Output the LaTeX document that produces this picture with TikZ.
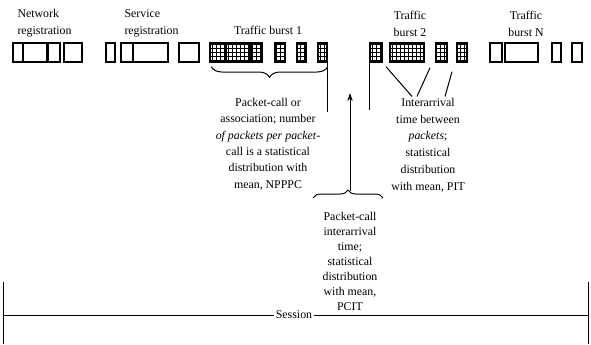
\documentclass[tikz,border=0pt]{standalone}
\usepackage{fontspec}
\setmainfont{Liberation Serif}
\usetikzlibrary{patterns,decorations.pathreplacing,calc,arrows.meta}

\tikzset{every picture/.style={line width=0.75pt}}
\tikzset{
  blank/.style={draw, line width=1pt, minimum height=14.25pt, inner sep=0pt},
  burst/.style={blank, pattern=grid},
  lbl/.style={inner sep=0.75pt, font=\fontsize{8.9}{12.75}\selectfont},
  curly/.style={decorate, decoration={brace, amplitude=#1}},
}

\begin{document}
\begin{tikzpicture}[x=0.75pt,y=0.75pt,yscale=-1,xscale=1]
\useasboundingbox (0,0) rectangle (591,344);

% network registration
\node [blank, minimum width=7.5pt]   (nr1) at (18,52.5) {};
\node [blank, minimum width=18pt]    (nr2) at (35,52.5) {};
\node [blank, minimum width=9pt]     (nr3) at (54,52.5) {};
\node [blank, minimum width=13.5pt]  (nr4) at (73,52.5) {};
% service registration
\node [blank, minimum width=6.75pt]  (sr1) at (110.5,52.5) {};
\node [blank, minimum width=9pt]     (sr2) at (127,52.5) {};
\node [blank, minimum width=26.25pt] (sr3) at (150.5,52.5) {};
\node [blank, minimum width=15pt]    (sr4) at (189,52.5) {};
% traffic burst 1
\node [burst, minimum width=11.25pt] (tb1a) at (217.5,52.5) {};
\node [burst, minimum width=18pt]    (tb1b) at (238,52.5) {};
\node [burst, minimum width=8.25pt]  (tb1c) at (256.5,52.5) {};
\node [burst, minimum width=7.5pt]   (tb1d) at (280,52.5) {};
\node [burst, minimum width=6.75pt]  (tb1e) at (301.5,52.5) {};
\node [burst, minimum width=6.75pt]  (tb1f) at (322.5,52.5) {};
% traffic burst 2
\node [burst, minimum width=9pt]     (tb2a) at (376,52.5) {};
\node [burst, minimum width=25.5pt]  (tb2b) at (407,52.5) {};
\node [burst, minimum width=8.25pt]  (tb2c) at (441.5,52.5) {};
\node [burst, minimum width=7.5pt]   (tb2d) at (462,52.5) {};
% traffic burst N
\node [blank, minimum width=9pt]     (tbn1) at (496,52.5) {};
\node [blank, minimum width=24.75pt] (tbn2) at (521.5,52.5) {};
\node [blank, minimum width=6.75pt]  (tbn3) at (556.5,52.5) {};
\node [blank, minimum width=7.5pt]   (tbn4) at (577,52.5) {};

% headings
\node [lbl, anchor=west, align=left] (netlbl) at (16,23.5) {Network\\registration};
\node [lbl, anchor=west, align=left] (svclbl) at (123,23.5) {Service\\registration};
\node [lbl] (tb1lbl) at (268,30) {Traffic burst 1};
\node [lbl, align=center] (tb2lbl) at (410,23.5) {Traffic\\burst 2};
\node [lbl, align=center] (tbnlbl) at (526,23.5) {Traffic\\burst N};

% explanations
\node [lbl, align=center, font=\fontsize{8.9}{12.3}\selectfont] (npppc) at (268,144)
  {Packet-call or\\association; number\\\textit{of packets per packet-}\\call is a statistical\\distribution with\\mean, NPPPC};
\node [lbl, align=center, font=\fontsize{8.9}{12.6}\selectfont] (pit) at (428,145)
  {Interarrival\\time between\\\textit{packets};\\statistical\\distribution\\with mean, PIT};
\node [lbl, align=center, font=\fontsize{8.9}{11.25}\selectfont] (pcit) at (350,261)
  {Packet-call\\interarrival\\time;\\statistical\\distribution\\with mean,\\PCIT};

% packet-call brace and its marker
\draw [curly=8] ($(tb1f.south east)+(0,4)$) -- ($(tb1a.south west)+(2,4)$);
\coordinate (npend) at (327,112);
\draw (tb1f.south east) -- (tb1f.south east |- npend);

% interarrival between packets
\coordinate (pitend) at (371,110);
\draw (tb2a.south west) -- (tb2a.south west |- pitend);
\draw ($(tb2a.south east)!0.5!(tb2b.south west)+(0,4)$) -- ($(pit.north)+(-16,0)$);
\draw ($(tb2b.south east)!0.5!(tb2c.south west)+(0,5)$) -- ($(pit.north)+(-11,0)$);
\draw ($(tb2c.south east)!0.5!(tb2d.south west)+(0,9)$) -- ($(pit.north)+(17,0)$);

% packet-call interarrival
\coordinate (pcl) at (313,198);
\coordinate (pcr) at (383,198);
\coordinate (pctip) at (350,191);
\coordinate (pctop) at (350,93);
\draw [curly=6] (pcl) -- (pcr);
\draw [-{Stealth[length=6pt,width=4pt]}] (pctip) -- (pctop);

% session
\coordinate (sl) at (3,315);
\coordinate (sr) at (588,315);
\coordinate (slt) at (3,282);
\coordinate (slb) at (3,344);
\coordinate (srt) at (588,282);
\coordinate (srb) at (588,344);
\draw (slt) -- (slb);
\draw (srt) -- (srb);
\node [lbl, inner sep=1pt] (sess) at (294,315) {Session};
\draw (sl) -- (sess.west);
\draw (sess.east) -- (sr);

\end{tikzpicture}
\end{document}
